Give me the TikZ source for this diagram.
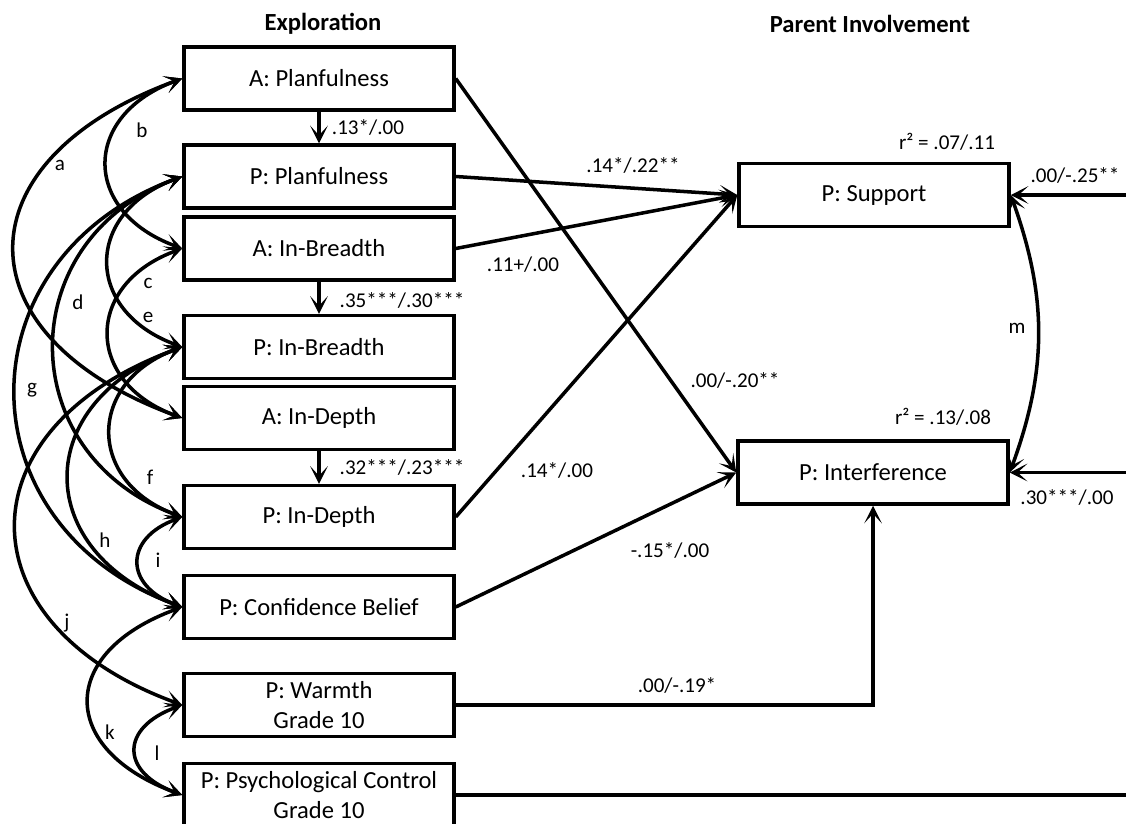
\documentclass[tikz,border=0pt]{standalone}
\usepackage{fontspec}
\setmainfont{Carlito}
\usetikzlibrary{arrows.meta}

\begin{document}
\begin{tikzpicture}[x=0.02cm, y=0.02cm, line width=2pt,
    >={Stealth[length=10pt, width=10pt, inset=5.5pt]},
    var/.style={draw, shape=rectangle, minimum width=5.4cm, minimum height=1.26cm, inner ysep=1pt, align=center, font=\fontsize{14}{17.6}\selectfont},
    val/.style={font=\fontsize{12}{14}\selectfont},
    head/.style={font=\fontsize{14}{17}\selectfont\bfseries},
    cov/.style={<->, bend right=70}]
    \useasboundingbox (0,0) rectangle (1126,-823);

    % column titles
    \node[head] (TX) at (323,-24) {Exploration};
    \node[head] (TP) at (870,-24) {Parent Involvement};

    % exploration (A and P reports) and parenting grade 10
    \node[var] (AP) at (319,-78.5) {A: Planfulness};
    \node[var] (PP) at (319,-176.5) {P: Planfulness};
    \node[var] (AB) at (319,-248.5) {A: In-Breadth};
    \node[var] (PB) at (319,-347) {P: In-Breadth};
    \node[var] (AD) at (319,-418) {A: In-Depth};
    \node[var] (PD) at (319,-517) {P: In-Depth};
    \node[var] (PC) at (319,-607) {P: Confidence Belief};
    \node[var] (PW) at (319,-705) {P: Warmth\\Grade 10};
    \node[var] (PK) at (319,-795) {P: Psychological Control\\Grade 10};

    % parent involvement
    \node[var] (PS) at (874,-195) {P: Support};
    \node[var] (PI) at (873,-472.5) {P: Interference};
    \node[val] (RS) at (947,-142) {r² = .07/.11};
    \node[val] (RI) at (943,-417) {r² = .13/.08};

    % loose ends off to the right
    \coordinate (SR) at (1140,-195);
    \coordinate (IR) at (1140,-472.5);
    \coordinate (KR) at (1140,-795);

    % paths
    \draw[->] (AP)--(PP);
    \draw[->] (AB)--(PB);
    \draw[->] (AD)--(PD);
    \draw[->] (PP.east)--(PS.west);
    \draw[->] (AB.east)--(PS.west);
    \draw[->] (PD.east)--(PS.west);
    \draw[->] (AP.east)--(PI.west);
    \draw[->] (PC.east)--(PI.west);
    \draw[->] (PW.east) -| (PI.south);
    \draw[->] (SR)--(PS.east);
    \draw[->] (IR)--(PI.east);
    \draw (PK.east)--(KR);
    \draw[<->] (PS.east) to[bend left=20] (PI.east);

    \node[val] (L1) at (368,-127) {.13*/.00};
    \node[val] (L2) at (402,-300) {.35***/.30***};
    \node[val] (L3) at (402,-467) {.32***/.23***};
    \node[val] (L4) at (633,-165) {.14*/.22**};
    \node[val] (L5) at (523,-265) {.11+/.00};
    \node[val] (L6) at (735,-380) {.00/-.20**};
    \node[val] (L7) at (557,-470) {.14*/.00};
    \node[val] (L8) at (670,-550) {-.15*/.00};
    \node[val] (L9) at (677,-685) {.00/-.19*};
    \node[val] (L10) at (1075,-175) {.00/-.25**};
    \node[val] (L11) at (1067,-497) {.30***/.00};

    % covariances
    \draw[cov, looseness=1.80] (AP.west) to (AD.west);
    \draw[cov, looseness=1.62] (AP.west) to (AB.west);
    \draw[cov, looseness=1.58] (AB.west) to (AD.west);
    \draw[cov, looseness=1.37] (PP.west) to (PD.west);
    \draw[cov, looseness=1.58] (PP.west) to (PB.west);
    \draw[cov, looseness=1.54] (PB.west) to (PD.west);
    \draw[cov, looseness=1.41] (PP.west) to (PC.west);
    \draw[cov, looseness=1.59] (PB.west) to (PC.west);
    \draw[cov, looseness=1.77] (PD.west) to (PC.west);
    \draw[cov, looseness=1.69] (PB.west) to (PW.west);
    \draw[cov, looseness=1.81] (PC.west) to (PK.west);
    \draw[cov, looseness=1.89] (PW.west) to (PK.west);

    \node[val] (Ca) at (60,-165) {a};
    \node[val] (Cb) at (142,-130) {b};
    \node[val] (Cc) at (148,-283) {c};
    \node[val] (Cd) at (78,-302) {d};
    \node[val] (Ce) at (148,-317) {e};
    \node[val] (Cf) at (150,-477) {f};
    \node[val] (Cg) at (32,-390) {g};
    \node[val] (Ch) at (105,-540) {h};
    \node[val] (Ci) at (158,-560) {i};
    \node[val] (Cj) at (67,-623) {j};
    \node[val] (Ck) at (110,-732) {k};
    \node[val] (Cl) at (157,-753) {l};
    \node[val] (Cm) at (1017,-328) {m};
\end{tikzpicture}
\end{document}
